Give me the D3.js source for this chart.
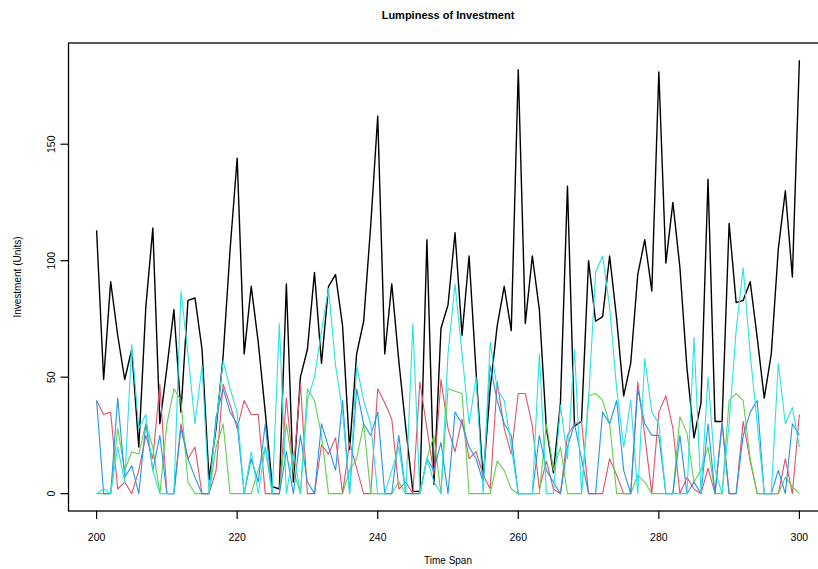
<!DOCTYPE html>
<html><head><meta charset="utf-8">
<script src="https://cdn.jsdelivr.net/npm/d3@7"></script>
<style>body{margin:0;background:#fff}svg{display:block}text{font-family:"Liberation Sans",Arial,sans-serif;fill:#000}</style>
</head><body><svg id="c" width="818" height="569"></svg>
<script>
const years = d3.range(200, 301);
const xTicks = [200, 220, 240, 260, 280, 300];
const yTicks = [0, 50, 100, 150];
const seriesNames = ["Total", "Red", "Green", "Blue", "Cyan"];
const seriesColors = ["#000000", "#DF536B", "#61D04F", "#2297E6", "#28E2E5"];

const total = [113,49,91,68,49,62,20,80,114,30,54,79,35,83,84,62,6,28,59,105,
144,60,89,65,35,3,2,90,5,50,62,95,56,89,94,72,19,60,74,115,
162,60,90,57,28,1,1,109,4,71,81,112,68,102,52,6,45,72,89,70,
182,73,102,79,28,9,39,132,29,31,100,74,76,102,75,42,56,94,109,87,
181,99,125,97,54,24,39,135,31,31,116,82,83,91,67,41,60,105,130,93,186];
const red = [40,34,35,2,5,0,10,25,15,47,0,0,30,15,20,0,0,10,47,38,
28,40,34,34,0,0,0,41,10,47,0,0,21,17,24,0,22,11,0,0,
45,39,32,2,5,0,48,28,8,49,28,18,32,15,18,8,2,48,28,17,
43,43,29,2,14,2,0,25,30,31,0,0,0,15,8,0,0,48,25,0,
35,42,28,0,7,2,0,11,0,31,0,0,31,14,0,0,0,0,15,0,34];
const green = [0,0,0,28,10,18,17,30,20,0,30,45,40,5,0,0,0,20,30,0,
0,0,0,10,20,0,0,30,10,0,45,40,25,0,0,0,10,15,30,0,
0,0,0,5,0,0,0,15,25,0,45,44,43,0,0,0,0,14,10,2,
0,0,0,0,30,10,20,0,0,0,42,43,40,30,0,0,0,8,5,0,
0,0,0,33,26,5,10,20,0,0,40,43,40,15,0,0,0,0,7,3,0];
const blue = [40,0,0,41,7,12,0,30,10,25,0,0,28,15,7,0,0,33,45,35,
30,0,15,5,30,0,0,18,0,25,5,0,30,20,10,40,0,45,30,25,
35,0,0,25,0,0,0,15,10,22,0,35,30,20,15,5,55,40,30,25,
0,0,0,25,10,5,0,20,30,15,0,0,35,30,40,10,0,45,30,25,
25,0,0,25,0,5,0,30,0,30,0,0,25,35,40,0,0,10,0,30,25];
const cyan = [0,2,0,20,5,64,28,34,10,0,0,0,87,60,30,55,0,30,57,45,
35,0,18,0,20,0,73,0,18,0,40,50,70,88,55,35,0,55,40,30,
0,0,10,20,0,73,0,15,5,0,60,90,60,30,50,0,65,45,40,20,
0,0,0,60,0,0,38,15,62,0,40,95,102,80,45,20,40,0,58,35,
30,0,0,0,0,67,0,50,10,0,30,70,97,60,30,0,0,56,30,37,20];
const seriesData = [total, red, green, blue, cyan];

const svg = d3.select("#c");
const L = 68.5, R = 827.5, T = 43, B = 511;
const x = d3.scaleLinear().domain([196, 304]).range([L, R]);
const yMax = 186;
const y = d3.scaleLinear().domain([-0.04*yMax, yMax*1.04]).range([B, T]);

// lines
const line = d3.line().x((d,i)=>x(years[i])).y(d=>y(d));
seriesData.forEach((s,k)=>{
  svg.append("path").datum(s).attr("d", line)
    .attr("fill","none").attr("stroke", seriesColors[k])
    .attr("stroke-width", k===0?1.4:1.1).attr("stroke-linejoin","round");
});

// frame
svg.append("rect").attr("x",L).attr("y",T).attr("width",R-L).attr("height",B-T)
  .attr("fill","none").attr("stroke","#000").attr("stroke-width",1.3);

// x axis
const gx = svg.append("g");
xTicks.forEach(t=>{
  gx.append("line").attr("x1",x(t)).attr("x2",x(t)).attr("y1",B).attr("y2",B+8)
    .attr("stroke","#000").attr("stroke-width",1.2);
  gx.append("text").attr("x",x(t)).attr("y",B+30).attr("text-anchor","middle")
    .attr("font-size",10.5).text(t);
});
// y axis
const gy = svg.append("g");
yTicks.forEach(t=>{
  gy.append("line").attr("x1",L-8).attr("x2",L).attr("y1",y(t)).attr("y2",y(t))
    .attr("stroke","#000").attr("stroke-width",1.2);
  gy.append("text").attr("transform",`translate(${L-14},${y(t)}) rotate(-90)`)
    .attr("text-anchor","middle").attr("font-size",10.5).text(t);
});

// titles
svg.append("text").attr("x",(L+R)/2).attr("y",19).attr("text-anchor","middle")
  .attr("font-size",11).attr("font-weight","bold").text("Lumpiness of Investment");
svg.append("text").attr("x",(L+R)/2).attr("y",564).attr("text-anchor","middle")
  .attr("font-size",10).text("Time Span");
svg.append("text").attr("transform",`translate(21,${(T+B)/2}) rotate(-90)`)
  .attr("text-anchor","middle").attr("font-size",10).text("Investment (Units)");
</script></body></html>
